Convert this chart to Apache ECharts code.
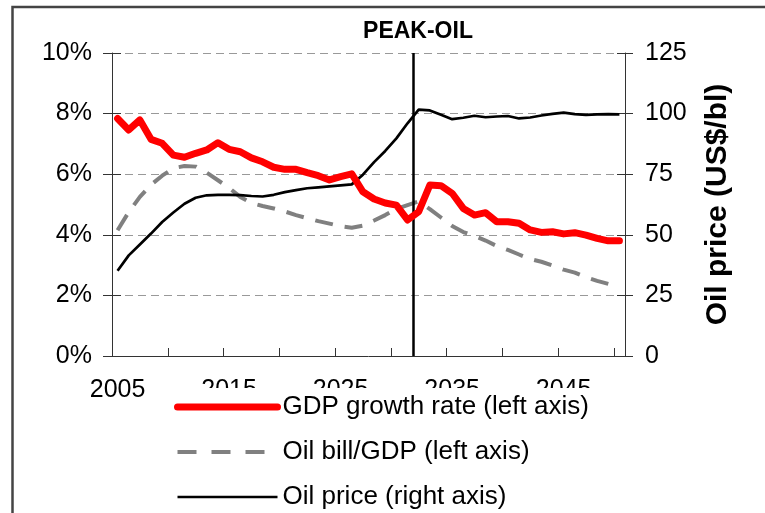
<!DOCTYPE html>
<html>
<head>
<meta charset="utf-8">
<script src="https://cdn.jsdelivr.net/npm/echarts@6/dist/echarts.min.js"></script>
<style>html,body{margin:0;padding:0;background:#fff}#c{width:765px;height:513px}</style>
</head>
<body>
<div id="c"></div>
<script>
var years = [];
for (var y = 2005; y <= 2050; y++) years.push(String(y));

var gdpGrowth = [7.84,7.46,7.79,7.15,7.02,6.63,6.56,6.69,6.80,7.04,
                 6.82,6.74,6.54,6.41,6.23,6.16,6.16,6.05,5.95,5.81,
                 5.92,6.01,5.42,5.18,5.05,4.98,4.49,4.76,5.64,5.62,
                 5.37,4.87,4.65,4.73,4.43,4.43,4.38,4.16,4.08,4.10,
                 4.03,4.07,3.99,3.88,3.80,3.80];
var oilBill = [4.15,4.75,5.25,5.65,5.95,6.20,6.27,6.25,6.05,5.80,
               5.55,5.25,5.05,4.95,4.87,4.77,4.65,4.55,4.45,4.37,
               4.28,4.23,4.30,4.47,4.65,4.85,4.98,5.10,4.85,4.57,
               4.29,4.09,3.96,3.81,3.63,3.50,3.35,3.20,3.11,2.99,
               2.85,2.75,2.60,2.48,2.38,2.28];
var oilPrice = [35.2,41.5,46.0,50.5,55.3,59.2,62.8,65.3,66.3,66.5,
                66.5,66.4,66.0,65.8,66.5,67.6,68.4,69.2,69.6,70.0,
                70.4,70.8,74.8,80.0,84.6,89.8,96.0,101.6,101.3,99.5,
                97.7,98.3,99.1,98.5,98.8,99.0,98.0,98.4,99.2,99.9,
                100.4,99.8,99.5,99.7,99.8,99.7];
var peakYear = 2032;
var leftTicks = {min: 0, max: 10, interval: 2};
var rightTicks = {min: 0, max: 125, interval: 25};
var names = ['GDP growth rate (left axis)', 'Oil bill/GDP (left axis)', 'Oil price (right axis)'];

var FONT = '"Liberation Sans", Arial, sans-serif';
var AX = '#333';
var chart = echarts.init(document.getElementById('c'), null, {renderer: 'canvas'});
chart.setOption({
  animation: false,
  backgroundColor: '#fff',
  textStyle: {fontFamily: FONT},
  graphic: [{
    type: 'rect', silent: true, z: -10,
    shape: {x: 12.5, y: 7, width: 900, height: 700},
    style: {fill: null, stroke: '#444', lineWidth: 2.5}
  }],
  title: {
    text: 'PEAK-OIL', left: 413, top: 15, textAlign: 'center',
    textStyle: {fontFamily: FONT, fontSize: 23, fontWeight: 'bold', color: '#000'}
  },
  legend: {
    orient: 'vertical', left: 168, top: 388, height: 140,
    backgroundColor: '#fff', padding: [6, 12, 6, 6],
    itemGap: 19, itemWidth: 100, itemHeight: 14,
    itemStyle: {opacity: 0},
    textStyle: {fontFamily: FONT, fontSize: 26, color: '#000'},
    data: [
      {name: names[0], lineStyle: {width: 7, color: '#ff0000', cap: 'round'}},
      {name: names[1], lineStyle: {width: 4, color: '#808080', type: [19, 15]}},
      {name: names[2], lineStyle: {width: 2.5, color: '#000'}}
    ]
  },
  grid: {left: 112, right: 140, top: 53, bottom: 157, containLabel: false},
  xAxis: [{
    type: 'category', data: years, boundaryGap: true,
    axisLine: {lineStyle: {color: AX, width: 1}},
    axisTick: {interval: 4, length: 8, lineStyle: {color: AX}},
    axisLabel: {interval: 9, fontSize: 25, color: '#000', margin: 22, fontFamily: FONT},
    splitLine: {show: false}
  }, {
    type: 'value', min: 2005, max: 2051, interval: 5, position: 'bottom',
    axisLine: {show: false},
    axisTick: {show: true, inside: true, length: 8, lineStyle: {color: AX}},
    axisLabel: {show: false}, splitLine: {show: false}
  }],
  yAxis: [{
    type: 'value', position: 'left', min: leftTicks.min, max: leftTicks.max, interval: leftTicks.interval,
    axisLine: {show: true, lineStyle: {color: AX}},
    axisTick: {show: true, length: 9, lineStyle: {color: AX}},
    axisLabel: {formatter: '{value}%', fontSize: 25, color: '#000', margin: 20, fontFamily: FONT},
    splitLine: {show: true, lineStyle: {color: '#999', type: [8, 5], width: 1}}
  }, {
    type: 'value', position: 'right', min: rightTicks.min, max: rightTicks.max, interval: rightTicks.interval,
    name: 'Oil price (US$/bl)', nameLocation: 'middle', nameGap: 78,
    nameTextStyle: {fontSize: 30, fontWeight: 'bold', color: '#000', fontFamily: FONT},
    axisLine: {show: true, lineStyle: {color: AX}},
    axisTick: {show: true, length: 8, lineStyle: {color: AX}},
    axisLabel: {fontSize: 25, color: '#000', margin: 20, fontFamily: FONT},
    splitLine: {show: false}
  }, {
    type: 'value', position: 'left', min: leftTicks.min, max: leftTicks.max, interval: leftTicks.interval,
    axisLine: {show: false}, axisLabel: {show: false}, splitLine: {show: false},
    axisTick: {show: true, inside: true, length: 9, lineStyle: {color: AX}}
  }, {
    type: 'value', position: 'right', min: rightTicks.min, max: rightTicks.max, interval: rightTicks.interval,
    axisLine: {show: false}, axisLabel: {show: false}, splitLine: {show: false},
    axisTick: {show: true, inside: true, length: 8, lineStyle: {color: AX}}
  }],
  series: [{
    name: names[1], type: 'line', data: oilBill, xAxisIndex: 0, yAxisIndex: 0,
    symbol: 'none', z: 3,
    lineStyle: {color: '#808080', width: 4, type: [18, 12]},
    itemStyle: {color: '#808080'}
  }, {
    name: names[2], type: 'line', data: oilPrice, xAxisIndex: 0, yAxisIndex: 1,
    symbol: 'none', z: 4,
    lineStyle: {color: '#000', width: 2.7},
    itemStyle: {color: '#000'}
  }, {
    name: names[0], type: 'line', data: gdpGrowth, xAxisIndex: 0, yAxisIndex: 0,
    symbol: 'none', z: 5,
    lineStyle: {color: '#ff0000', width: 7, cap: 'round', join: 'round'},
    itemStyle: {color: '#ff0000'}
  }, {
    name: 'peak', type: 'line', data: [], xAxisIndex: 1, yAxisIndex: 0,
    symbol: 'none', z: 6,
    markLine: {
      silent: true, symbol: ['none', 'none'], label: {show: false},
      lineStyle: {color: '#000', width: 2.5, type: 'solid'},
      data: [{xAxis: peakYear}]
    }
  }]
});
</script>
</body>
</html>
